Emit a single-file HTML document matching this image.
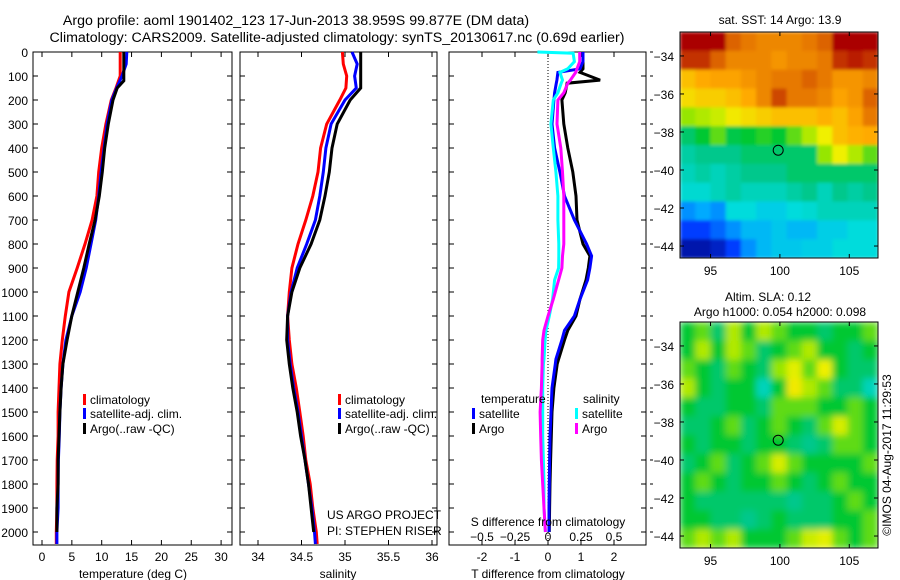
<!DOCTYPE html>
<html><head><meta charset="utf-8">
<style>
html,body{margin:0;padding:0;background:#fff;}
svg{display:block;font-family:"Liberation Sans",sans-serif;}
text{font-size:12px;fill:#000;}
</style></head>
<body>
<svg id="fig" width="900" height="580" viewBox="0 0 900 580" xmlns="http://www.w3.org/2000/svg">
<rect x="0" y="0" width="900" height="580" fill="#fff"/>
<text x="296" y="25" text-anchor="middle" style="font-size:14.2px">Argo profile: aoml 1901402_123 17-Jun-2013 38.959S 99.877E (DM data)</text>
<text x="337" y="42" text-anchor="middle" style="font-size:14.2px">Climatology: CARS2009. Satellite-adjusted climatology: synTS_20130617.nc (0.69d earlier)</text>
<g id="panels"></g>
<g id="maps"></g>
<text transform="translate(891,455) rotate(-90)" text-anchor="middle">©IMOS 04-Aug-2017 11:29:53</text>
</svg>
<script>
// ---------- profile data ----------
const depths = [0,50,100,150,200,300,400,500,600,700,800,900,1000,1100,1200,1300,1400,1500,1600,1700,1800,1900,2000,2050];
const tempClim = [13.1,13.1,13.1,12.4,11.6,10.7,10.0,9.5,9.2,8.4,7.2,5.9,4.5,3.9,3.4,3.0,2.85,2.7,2.7,2.55,2.5,2.5,2.4,2.4];
const tempSat  = [14.2,14.1,13.4,12.5,11.7,10.9,10.4,9.9,9.5,9.0,8.2,7.4,6.4,5.0,4.0,3.5,3.2,3.0,2.9,2.75,2.7,2.7,2.5,2.5];
const argoDepths = [0,50,100,120,150,200,300,400,500,600,700,800,900,1000,1100,1200,1300,1400,1500,1600,1700,1800,1900,2000];
const tempArgo = [13.7,13.7,13.7,13.7,12.6,11.9,11.1,10.5,10.1,9.6,8.9,7.9,7.0,6.0,5.0,4.2,3.5,3.2,3.0,2.85,2.7,2.7,2.5,2.5];
const salClim = [34.97,34.98,35.02,35.01,34.94,34.79,34.72,34.69,34.63,34.55,34.46,34.39,34.36,34.34,34.36,34.39,34.44,34.48,34.52,34.55,34.60,34.63,34.67,34.68];
const salSat  = [35.08,35.14,35.11,35.13,35.00,34.84,34.78,34.75,34.71,34.66,34.56,34.45,34.38,34.34,34.34,34.37,34.41,34.46,34.50,34.54,34.58,34.62,34.65,34.66];
const salArgo = [35.18,35.18,35.18,35.18,35.18,35.06,34.91,34.85,34.82,34.77,34.71,34.61,34.48,34.39,34.34,34.33,34.36,34.40,34.45,34.49,34.54,34.58,34.61,34.64];
const diffDepths = [0,5,40,70,85,117,130,170,200,300,400,500,600,700,800,850,900,950,1030,1100,1160,1200,1280,1300,1400,1500,1600,1700,1800,1900,2000];
const tDiffSat  = [1.06,1.06,1.06,0.97,0.3,0.27,0.25,0.2,0.18,0.12,0.2,0.36,0.5,0.8,1.17,1.32,1.27,1.2,0.97,0.8,0.5,0.42,0.24,0.22,0.12,0.09,0.06,0.05,0.04,0.03,0.03];
const tDiffArgo = [1.06,1.06,1.06,1.06,0.97,1.58,0.58,0.52,0.42,0.48,0.6,0.75,0.85,0.88,1.06,1.27,1.22,1.15,0.97,0.85,0.6,0.5,0.32,0.28,0.18,0.12,0.1,0.08,0.06,0.05,0.04];
const sDiffSat  = [-0.08,0.19,0.2,0.15,0.09,0.11,0.1,0.075,0.04,0.022,0.04,0.06,0.075,0.075,0.082,0.082,0.08,0.05,0.035,0.01,-0.015,-0.022,-0.03,-0.035,-0.04,-0.04,-0.04,-0.035,-0.03,-0.03,-0.02];
const sDiffArgo = [0.24,0.24,0.24,0.22,0.21,0.17,0.15,0.12,0.075,0.068,0.097,0.11,0.12,0.12,0.12,0.11,0.105,0.08,0.04,0.0,-0.03,-0.04,-0.045,-0.045,-0.05,-0.06,-0.055,-0.05,-0.04,-0.03,-0.02];

// ---------- map data (colour scale 0..1) ----------
const sstGrid = [
[0.95,0.95,0.95,0.85,0.82,0.8,0.8,0.8,0.82,0.85,0.95,0.95,0.95],
[0.9,0.9,0.85,0.8,0.8,0.8,0.78,0.8,0.8,0.82,0.9,0.92,0.9],
[0.72,0.75,0.76,0.76,0.78,0.8,0.82,0.82,0.85,0.82,0.78,0.78,0.8],
[0.68,0.7,0.7,0.72,0.75,0.8,0.88,0.82,0.82,0.8,0.76,0.78,0.85],
[0.58,0.6,0.62,0.66,0.68,0.7,0.72,0.72,0.72,0.74,0.72,0.76,0.82],
[0.45,0.5,0.55,0.48,0.5,0.52,0.5,0.55,0.6,0.65,0.72,0.74,0.75],
[0.4,0.42,0.42,0.42,0.45,0.45,0.45,0.45,0.45,0.58,0.65,0.6,0.55],
[0.38,0.4,0.38,0.4,0.42,0.42,0.42,0.45,0.45,0.45,0.45,0.45,0.45],
[0.36,0.36,0.38,0.4,0.38,0.38,0.38,0.4,0.42,0.38,0.42,0.4,0.42],
[0.25,0.28,0.25,0.35,0.35,0.33,0.33,0.35,0.36,0.38,0.38,0.38,0.38],
[0.15,0.15,0.2,0.25,0.3,0.3,0.32,0.3,0.3,0.33,0.33,0.35,0.35],
[0.05,0.05,0.08,0.15,0.25,0.3,0.32,0.32,0.33,0.33,0.35,0.35,0.35]];
const slaGrid = [
[0.5,0.55,0.45,0.6,0.5,0.6,0.55,0.5,0.5,0.45,0.5,0.5,0.55],
[0.5,0.6,0.5,0.6,0.55,0.45,0.5,0.55,0.6,0.5,0.5,0.45,0.5],
[0.55,0.5,0.45,0.55,0.5,0.45,0.58,0.64,0.55,0.65,0.5,0.45,0.45],
[0.6,0.5,0.45,0.5,0.5,0.38,0.5,0.66,0.6,0.55,0.45,0.45,0.38],
[0.5,0.45,0.45,0.5,0.5,0.45,0.55,0.55,0.55,0.5,0.5,0.55,0.5],
[0.45,0.45,0.5,0.55,0.45,0.5,0.55,0.5,0.45,0.55,0.63,0.55,0.5],
[0.5,0.45,0.5,0.5,0.45,0.5,0.5,0.45,0.42,0.45,0.55,0.55,0.5],
[0.45,0.5,0.55,0.45,0.5,0.55,0.63,0.55,0.5,0.5,0.5,0.5,0.55],
[0.5,0.55,0.5,0.45,0.5,0.5,0.55,0.5,0.45,0.5,0.55,0.5,0.5],
[0.5,0.45,0.45,0.45,0.45,0.45,0.45,0.42,0.45,0.45,0.5,0.55,0.5],
[0.5,0.5,0.45,0.45,0.42,0.45,0.5,0.45,0.45,0.45,0.5,0.5,0.55],
[0.55,0.6,0.55,0.6,0.5,0.5,0.5,0.55,0.62,0.64,0.55,0.5,0.55]];
const depthTicks = [0,100,200,300,400,500,600,700,800,900,1000,1100,1200,1300,1400,1500,1600,1700,1800,1900,2000];
const tempTicks = [0,5,10,15,20,25,30];
const salTicks = [34,34.5,35,35.5,36];
const salTickLabels = ["34","34.5","35","35.5","36"];
const tDiffTicks = [-2,-1,0,1,2];
const sDiffTicks = [-0.5,-0.25,0,0.25,0.5];
const latTicks = [-34,-36,-38,-40,-42,-44];
const lonTicks = [95,100,105];
const argoLon = 99.877, argoLat = -38.959;

const NS = "http://www.w3.org/2000/svg";
function mk(tag, attrs, parent){const e=document.createElementNS(NS,tag);for(const k in attrs)e.setAttribute(k,attrs[k]);parent.appendChild(e);return e;}
const P = document.getElementById('panels');
const yD = d => 52 + d*0.24;
const PB = 545;

function frame(x0,x1,name){
  const r = mk('rect',{x:x0,y:52,width:x1-x0,height:PB-52,fill:'none',stroke:'#000','stroke-width':1},P);
  
  
  depthTicks.forEach(d=>{
    mk('line',{x1:x0,x2:x0+5,y1:yD(d),y2:yD(d),stroke:'#000'},P);
    mk('line',{x1:x1,x2:x1-5,y1:yD(d),y2:yD(d),stroke:'#000'},P);
  });
}
function xticks(x0,x1,ticks,labels,fx,name){
  ticks.forEach((t,i)=>{
    const x=fx(t);
    mk('line',{x1:x,x2:x,y1:PB,y2:PB-5,stroke:'#000'},P);
    mk('line',{x1:x,x2:x,y1:52,y2:57,stroke:'#000'},P);
    const tx = mk('text',{x:x,y:561,'text-anchor':'middle'},P);
    tx.textContent = labels[i];
    
    
  });
}
function line(xs, ds, fx, color, name){
  const pts = xs.map((v,i)=>fx(v).toFixed(1)+','+yD(ds[i]).toFixed(1)).join(' ');
  const pl = mk('polyline',{points:pts,fill:'none',stroke:color,'stroke-width':3,'stroke-linejoin':'miter'},P);
  
  
}
function txt(x,y,s,name,anchor){
  const t = mk('text',{x:x,y:y,'text-anchor':anchor||'start'},P);
  t.textContent = s;
  
  
  return t;
}
function legend(x,y,color,label,name){
  const r = mk('rect',{x:x,y:y-10,width:3,height:11,fill:color},P);
  
  
  txt(x+7,y,label,name);
}

// Panel 1: temperature
const xT = t => 42 + 5.97*t;
frame(33,232,'temperature-plot-frame');
depthTicks.forEach(d=>{ txt(28,yD(d)+5,String(d),'depth-tick-label','end'); });
xticks(33,232,tempTicks,tempTicks.map(String),xT,'temperature-tick-label');
line(tempClim,depths,xT,'#ff0000','temp-climatology-line');
line(tempSat,depths,xT,'#0000ff','temp-satellite-line');
line(tempArgo,argoDepths,xT,'#000000','temp-argo-line');
txt(133,578,'temperature (deg C)','temperature-axis-title','middle');
legend(83,404,'#ff0000','climatology','temp-legend-climatology');
legend(83,418,'#0000ff','satellite-adj. clim.','temp-legend-satellite');
legend(83,433,'#000000','Argo(..raw -QC)','temp-legend-argo');

// Panel 2: salinity
const xS = s => 258 + 87*(s-34);
frame(240,437,'salinity-plot-frame');
xticks(240,437,salTicks,salTickLabels,xS,'salinity-tick-label');
line(salClim,depths,xS,'#ff0000','sal-climatology-line');
line(salSat,depths,xS,'#0000ff','sal-satellite-line');
line(salArgo,argoDepths,xS,'#000000','sal-argo-line');
txt(338,578,'salinity','salinity-axis-title','middle');
legend(338,404,'#ff0000','climatology','sal-legend-climatology');
legend(338,418,'#0000ff','satellite-adj. clim.','sal-legend-satellite');
legend(338,433,'#000000','Argo(..raw -QC)','sal-legend-argo');
txt(327,519,'US ARGO PROJECT','project-label');
txt(327,535,'PI: STEPHEN RISER','pi-label');

// Panel 3: differences
const xDT = d => 548 + 33*d;
const xDS = s => 548 + 132*s;
frame(449,646,'difference-plot-frame');
depthTicks.forEach(d=>{ mk('line',{x1:650,x2:653,y1:yD(d),y2:yD(d),stroke:'#000'},P); });
xticks(449,646,tDiffTicks,tDiffTicks.map(String),xDT,'t-diff-tick-label');
mk('line',{x1:548,x2:548,y1:52,y2:PB,stroke:'#000','stroke-dasharray':'1,2'},P);
line(tDiffArgo,diffDepths,xDT,'#000000','t-diff-argo-line');
line(tDiffSat,diffDepths,xDT,'#0000ff','t-diff-satellite-line');
line(sDiffSat,diffDepths,xDS,'#00ffff','s-diff-satellite-line');
line(sDiffArgo,diffDepths,xDS,'#ff00ff','s-diff-argo-line');
txt(548,578,'T difference from climatology','t-diff-axis-title','middle');
txt(548,526,'S difference from climatology','s-diff-axis-title','middle');
sDiffTicks.forEach(s=>{ txt(xDS(s),541,String(s).replace('-','\u2212'),'s-diff-tick-label','middle'); });
txt(481,403,'temperature','diff-legend-temperature-header');
txt(583,403,'salinity','diff-legend-salinity-header');
legend(472,418,'#0000ff','satellite','diff-legend-t-satellite');
legend(472,433,'#000000','Argo','diff-legend-t-argo');
legend(575,418,'#00ffff','satellite','diff-legend-s-satellite');
legend(575,433,'#ff00ff','Argo','diff-legend-s-argo');

// ---------- maps ----------
const M = document.getElementById('maps');
const cStops = [[0,[0,0,130]],[0.15,[0,60,255]],[0.28,[0,170,255]],[0.35,[0,220,220]],[0.42,[0,200,140]],[0.5,[0,200,50]],[0.58,[150,230,0]],[0.65,[240,240,0]],[0.75,[255,170,0]],[0.85,[220,100,0]],[0.95,[170,0,0]],[1,[150,0,0]]];
function cmap(v){
  v=Math.max(0,Math.min(1,v));
  for(let i=1;i<cStops.length;i++){
    if(v<=cStops[i][0]){
      const a=cStops[i-1], b=cStops[i], t=(v-a[0])/(b[0]-a[0]);
      const c=a[1].map((x,k)=>Math.round(x+(b[1][k]-x)*t));
      return `rgb(${c[0]},${c[1]},${c[2]})`;
    }
  }
  return 'rgb(150,0,0)';
}
const lonMin=92.8, lonMax=107.07, latTop=-32.74, latBot=-44.63;
const xLon = lon => 680 + (lon-lonMin)/(lonMax-lonMin)*198;
function drawMap(grid, top, name, smooth){
  const yLat = lat => top + (latTop-lat)/(latTop-latBot)*226;
  const g = mk('g',{},M);
  
  
  const nr=grid.length, nc=grid[0].length;
  const dLon=(lonMax-lonMin)/nc, dLat=(latTop-latBot)/nr;
  const outer = mk('g',{'clip-path':'url(#clip'+top+')'},g);
  const inner = mk('g',smooth?{filter:'url(#blur)'}:{filter:'url(#blur2)'},outer);
  grid.forEach((row,i)=>row.forEach((v,j)=>{
    const x0=xLon(lonMin+j*dLon), x1=xLon(lonMin+(j+1)*dLon);
    const y0=yLat(latTop-i*dLat), y1=yLat(latTop-(i+1)*dLat);
    const r = mk('rect',{x:x0,y:y0,width:x1-x0+0.6,height:y1-y0+0.6,fill:cmap(v)},inner);
    
    
  }));
  mk('rect',{x:680,y:top,width:198,height:226,fill:'none',stroke:'#000'},g);
  latTicks.forEach(l=>{
    const y=yLat(l);
    mk('line',{x1:680,x2:684,y1:y,y2:y,stroke:'#000'},g);
    mk('line',{x1:878,x2:874,y1:y,y2:y,stroke:'#000'},g);
    const t=mk('text',{x:674,y:y+5,'text-anchor':'end'},g); t.textContent=String(l).replace('-','\u2212');
    
    
  });
  lonTicks.forEach(l=>{
    const x=xLon(l);
    mk('line',{x1:x,x2:x,y1:top,y2:top+4,stroke:'#000'},g);
    mk('line',{x1:x,x2:x,y1:top+226,y2:top+222,stroke:'#000'},g);
    const t=mk('text',{x:x,y:top+243,'text-anchor':'middle'},g); t.textContent=String(l);
    
    
  });
  const c = mk('ellipse',{cx:xLon(argoLon),cy:yLat(argoLat),rx:5,ry:5,fill:'none',stroke:'#000','stroke-width':1},g);
  
  
}
const defs = mk('defs',{},M);
const f = mk('filter',{id:'blur',x:'-5%',y:'-5%',width:'110%',height:'110%'},defs);
mk('feGaussianBlur',{stdDeviation:3.5,edgeMode:'duplicate'},f);
const f2 = mk('filter',{id:'blur2',x:'-5%',y:'-5%',width:'110%',height:'110%'},defs);
mk('feGaussianBlur',{stdDeviation:1.5,edgeMode:'duplicate'},f2);
const cp = mk('clipPath',{id:'clip322'},defs);
mk('rect',{x:680,y:322,width:198,height:226},cp);
const cp2 = mk('clipPath',{id:'clip32'},defs);
mk('rect',{x:680,y:32,width:198,height:226},cp2);
drawMap(sstGrid,32,'sst-map',false);
drawMap(slaGrid,322,'sla-map',true);
function mt(x,y,s,name){const t=mk('text',{x:x,y:y,'text-anchor':'middle'},M);t.textContent=s;
  
  }
mt(780,24,'sat. SST: 14 Argo: 13.9','sst-map-title');
mt(768,301,'Altim. SLA: 0.12','sla-map-title');
mt(780,316,'Argo h1000: 0.054 h2000: 0.098','argo-height-title');
</script>
</body></html>
